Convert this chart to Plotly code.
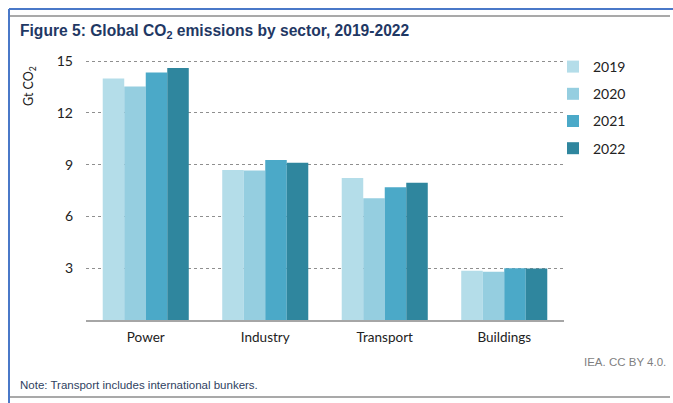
import plotly.graph_objects as go

sectors = ["Power", "Industry", "Transport", "Buildings"]
years = ["2019", "2020", "2021", "2022"]
v2019 = [14.0, 8.7, 8.23, 2.86]
v2020 = [13.53, 8.66, 7.05, 2.80]
v2021 = [14.34, 9.28, 7.69, 3.0]
v2022 = [14.61, 9.12, 7.96, 2.98]
series = [v2019, v2020, v2021, v2022]
colors = ["#b4dde9", "#95cee0", "#4ba9c8", "#2f869e"]
ytick_vals = [3, 6, 9, 12, 15]

W, H = 673, 403
ML, MR, MT, MB = 86, 109, 60, 83
PW, PH = W - ML - MR, H - MT - MB

def px(x):
    return (x - ML) / PW

def py(y):
    return (H - MB - y) / PH

fig = go.Figure()
for i, (yr, vals) in enumerate(zip(years, series)):
    fig.add_trace(go.Bar(x=sectors, y=vals, name=yr, marker_color=colors[i],
                         marker_line_width=0, legendgroup=yr))

font_body = "Lato, 'Open Sans', sans-serif"
fig.update_layout(
    width=W, height=H,
    margin=dict(l=ML, r=MR, t=MT, b=MB),
    paper_bgcolor="white", plot_bgcolor="white",
    barmode="group", bargap=0.28, bargroupgap=0,
    showlegend=True,
    legend=dict(x=px(553), y=py(51), xanchor="left", yanchor="top",
                font=dict(family=font_body, size=14, color="#222222"),
                tracegroupgap=6, itemwidth=30, bgcolor="rgba(0,0,0,0)"),
    font=dict(family=font_body, color="#222222"),
)
fig.update_xaxes(showline=True, linecolor="#a6a6a6", linewidth=1.5, ticks="",
                 ticklabelstandoff=4,
                 tickfont=dict(family=font_body, size=13.5, color="#222222"),
                 showgrid=False)
fig.update_yaxes(range=[0, 15.07], tickvals=ytick_vals, showgrid=True,
                 gridcolor="#8f8f8f", griddash="dot", gridwidth=1,
                 zeroline=False, showline=False, ticks="",
                 ticklabelstandoff=12,
                 tickfont=dict(family=font_body, size=14, color="#222222"))

shapes = [
    dict(type="line", xref="paper", yref="paper", x0=px(9), x1=px(673), y0=py(9), y1=py(9),
         line=dict(color="#4a78c8", width=2)),
    dict(type="line", xref="paper", yref="paper", x0=px(9), x1=px(9), y0=py(9), y1=py(403),
         line=dict(color="#4a78c8", width=2)),
    dict(type="line", xref="paper", yref="paper", x0=px(10), x1=px(670), y0=py(16), y1=py(16),
         line=dict(color="#8c8c8c", width=1.5)),
    dict(type="line", xref="paper", yref="paper", x0=px(10), x1=px(670), y0=py(397), y1=py(397),
         line=dict(color="#8c8c8c", width=1.5)),
]
fig.update_layout(shapes=shapes)

ann = [
    dict(text="<b>Figure 5: Global CO<sub>2</sub> emissions by sector, 2019-2022</b>",
         x=px(18), y=py(32), xanchor="left", yanchor="middle",
         font=dict(family="'Liberation Sans', Arial, sans-serif", size=15.6, color="#1f3864")),
    dict(text="Gt CO<sub>2</sub>", textangle=-90, x=px(29), y=py(86),
         xanchor="center", yanchor="middle",
         font=dict(family=font_body, size=12.5, color="#222222")),
    dict(text="IEA. CC BY 4.0.", x=px(668), y=py(362), xanchor="right", yanchor="middle",
         font=dict(family="'Liberation Sans', Arial, sans-serif", size=11.5, color="#7f7f7f")),
    dict(text="Note: Transport includes international bunkers.", x=px(18), y=py(385),
         xanchor="left", yanchor="middle",
         font=dict(family="'Liberation Sans', Arial, sans-serif", size=11.5, color="#2f3f5f")),
]
for a in ann:
    a.update(xref="paper", yref="paper", showarrow=False)
fig.update_layout(annotations=ann)

fig.write_html("out.html")
